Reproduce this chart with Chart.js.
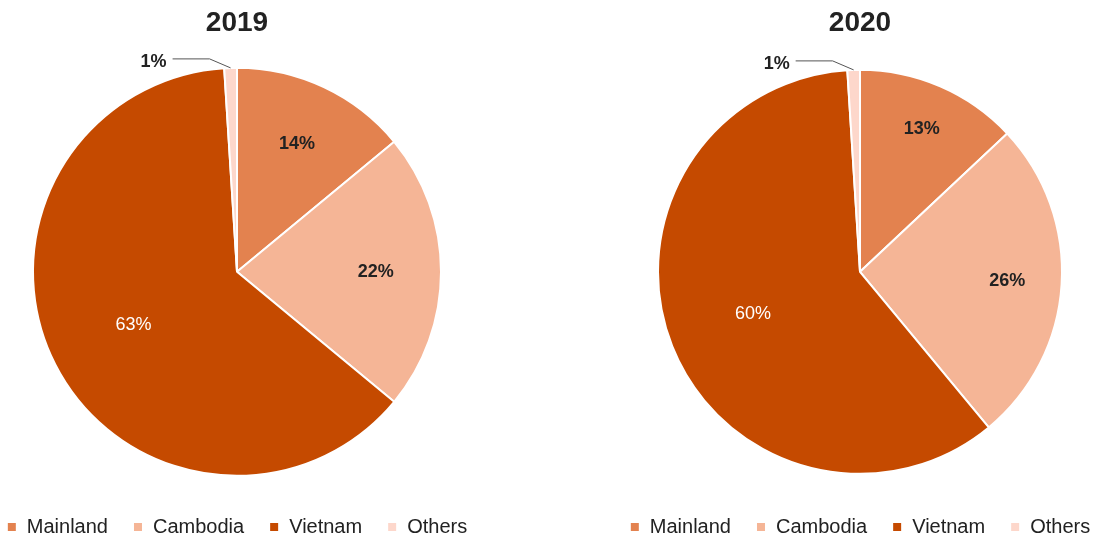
<!DOCTYPE html>
<html>
<head>
<meta charset="utf-8">
<script src="https://cdn.jsdelivr.net/npm/chart.js@4"></script>
<style>
    html, body { margin: 0; padding: 0; background: #fff; overflow: hidden; }
    body { width: 1094px; height: 540px; position: relative; }
    .box { position: absolute; top: 0; height: 547px; width: 560px; }
    #left { left: -43px; }
    #right { left: 580px; }
</style>
</head>
<body>
<div class="box" id="left"><canvas id="chart2019"></canvas></div>
<div class="box" id="right"><canvas id="chart2020"></canvas></div>
<script>
const categories = ["Mainland", "Cambodia", "Vietnam", "Others"];
const values2019 = [14, 22, 63, 1];
const values2020 = [13, 26, 60, 1];
const sliceColors = ["#e3824f", "#f5b596", "#c54a00", "#fdd7cb"];
const labelColors = ["#222222", "#222222", "#ffffff", "#222222"];
const labelWeights = ["bold", "bold", "normal", "bold"];

Chart.defaults.font.family = "'Liberation Sans', Arial, Helvetica, sans-serif";

// draws the percentages on the slices, and a leader line for the tiny one
const sliceLabels = {
    id: "sliceLabels",
    afterDatasetsDraw(chart, args, opts) {
        const ctx = chart.ctx;
        const meta = chart.getDatasetMeta(0);
        const data = chart.data.datasets[0].data;
        ctx.save();
        meta.data.forEach((arc, i) => {
            const p = arc.getProps(["x", "y", "startAngle", "endAngle", "outerRadius"], true);
            const mid = (p.startAngle + p.endAngle) / 2;
            const text = data[i] + "%";
            ctx.font = labelWeights[i] + " 18px 'Liberation Sans', Arial, sans-serif";
            if (data[i] < 3) {
                const ax = p.x + Math.cos(mid) * p.outerRadius;
                const ay = p.y + Math.sin(mid) * p.outerRadius;
                const ex = ax - 21, ey = ay - 9;
                const lx = ex - 37;
                ctx.strokeStyle = "#555555";
                ctx.lineWidth = 1;
                ctx.beginPath();
                ctx.moveTo(ax, ay);
                ctx.lineTo(ex, ey);
                ctx.lineTo(lx, ey);
                ctx.stroke();
                ctx.fillStyle = labelColors[i];
                ctx.textAlign = "right";
                ctx.textBaseline = "middle";
                ctx.fillText(text, lx - 6, ey + 3);
            } else {
                const f = opts.fractions[i];
                const tx = p.x + Math.cos(mid) * p.outerRadius * f;
                const ty = p.y + Math.sin(mid) * p.outerRadius * f;
                ctx.fillStyle = labelColors[i];
                ctx.textAlign = "center";
                ctx.textBaseline = "middle";
                ctx.fillText(text, tx, ty);
            }
        });
        ctx.restore();
    }
};

function makePie(id, title, values, radius, fractions) {
    const ctx = document.getElementById(id).getContext("2d");
    return new Chart(ctx, {
        type: "pie",
        data: {
            labels: categories,
            datasets: [{
                data: values,
                backgroundColor: sliceColors,
                borderColor: "#ffffff",
                borderWidth: 2,
            }],
        },
        options: {
            responsive: true,
            maintainAspectRatio: false,
            animation: false,
            radius: radius,
            layout: { padding: 0 },
            plugins: {
                title: {
                    display: true,
                    text: title,
                    color: "#222222",
                    font: { size: 28, weight: "bold" },
                    padding: { top: 6, bottom: 12 },
                },
                legend: {
                    position: "bottom",
                    labels: {
                        boxWidth: 10,
                        boxHeight: 10,
                        padding: 25,
                        color: "#222222",
                        font: { size: 20 },
                    },
                },
                tooltip: { enabled: false },
                sliceLabels: { fractions: fractions },
            },
        },
        plugins: [sliceLabels],
    });
}

window.onload = function () {
    makePie("chart2019", "2019", values2019, 204, [0.69, 0.68, 0.57, 0]);
    makePie("chart2020", "2020", values2020, 202, [0.77, 0.73, 0.57, 0]);
};
</script>
</body>
</html>
